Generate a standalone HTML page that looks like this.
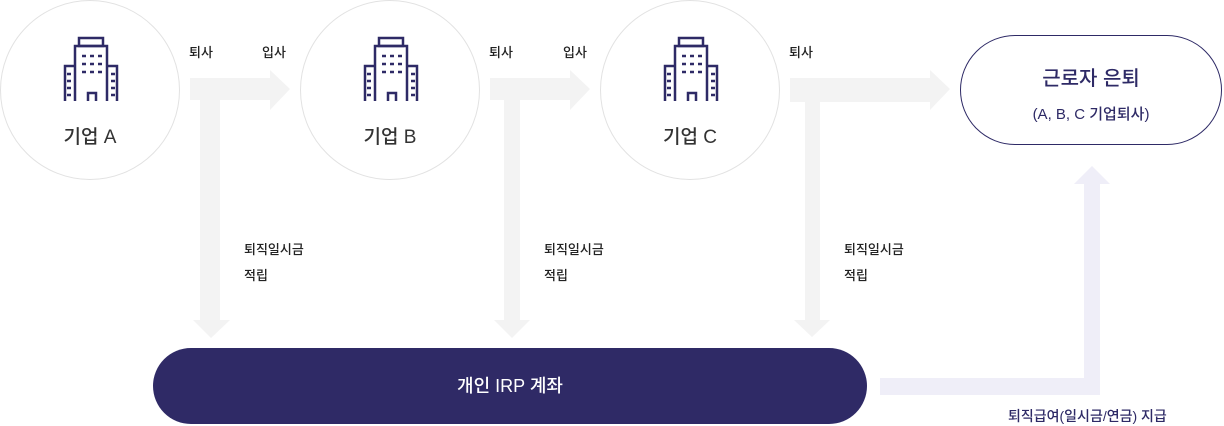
<!DOCTYPE html>
<html><head><meta charset="utf-8"><style>
body{margin:0;width:1224px;height:425px;background:#fff;overflow:hidden;position:relative;font-family:"Liberation Sans","Noto Sans CJK KR",sans-serif;color:#222}
.c{position:absolute;width:178px;height:178px;border:1px solid #e2e2e2;border-radius:50%;top:0}
.c .t{position:absolute;top:121px;width:100%;text-align:center;font-size:19px;color:#333;font-weight:500}
.c svg{position:absolute;left:60px;top:35px}
.l{position:absolute;font-size:13px;color:#222;font-weight:500}
</style></head><body>
<svg width="1224" height="425" style="position:absolute;left:0;top:0">
<g fill="#f3f3f3">
<polygon points="190,78 270,78 270,70 290,89 270,110 270,100 190,100"/>
<polygon points="200,100 220,100 220,320 230,320 211,338 193,320 200,320"/>
<polygon points="490,78 570,78 570,70 590,89 570,110 570,100 490,100"/>
<polygon points="504,100 520,100 520,320 530,320 512,338 494,320 504,320"/>
<polygon points="790,78 930,78 930,70 950,89 930,110 930,102 790,102"/>
<polygon points="805,102 820,102 820,320 830,320 812,337 794,320 805,320"/>
</g>
<polygon fill="#efeef8" points="880,378 1084,378 1084,184 1074,184 1092,166 1110,184 1100,184 1100,395 880,395"/>
</svg>
<div class="c" style="left:0"><svg width="62" height="66" viewBox="0 0 62 66" fill="none" stroke="#2e2a66" stroke-width="2.5"><rect x="18" y="2" width="24" height="8"/><path d="M14 65V10h32v55M14 65V30H4v35M46 30h10v35"/><path d="M21 20h4M29 20h4M37 20h4M21 28h4M29 28h4M37 28h4M21 36h4M29 36h4M37 36h4M6 38h4M6 45h4M6 52h4M6 59h4M50 38h4M50 45h4M50 52h4M50 59h4M27 65v-8h8v8"/></svg><div class="t">기업 A</div></div>
<div class="c" style="left:300px"><svg width="62" height="66" viewBox="0 0 62 66" fill="none" stroke="#2e2a66" stroke-width="2.5"><rect x="18" y="2" width="24" height="8"/><path d="M14 65V10h32v55M14 65V30H4v35M46 30h10v35"/><path d="M21 20h4M29 20h4M37 20h4M21 28h4M29 28h4M37 28h4M21 36h4M29 36h4M37 36h4M6 38h4M6 45h4M6 52h4M6 59h4M50 38h4M50 45h4M50 52h4M50 59h4M27 65v-8h8v8"/></svg><div class="t">기업 B</div></div>
<div class="c" style="left:600px"><svg width="62" height="66" viewBox="0 0 62 66" fill="none" stroke="#2e2a66" stroke-width="2.5"><rect x="18" y="2" width="24" height="8"/><path d="M14 65V10h32v55M14 65V30H4v35M46 30h10v35"/><path d="M21 20h4M29 20h4M37 20h4M21 28h4M29 28h4M37 28h4M21 36h4M29 36h4M37 36h4M6 38h4M6 45h4M6 52h4M6 59h4M50 38h4M50 45h4M50 52h4M50 59h4M27 65v-8h8v8"/></svg><div class="t">기업 C</div></div>
<div class="l" style="left:189px;top:42px">퇴사</div><div class="l" style="left:262px;top:42px">입사</div>
<div class="l" style="left:489px;top:42px">퇴사</div><div class="l" style="left:563px;top:42px">입사</div>
<div class="l" style="left:789px;top:42px">퇴사</div>
<div class="l" style="left:244px;top:237px;line-height:26px">퇴직일시금<br>적립</div>
<div class="l" style="left:544px;top:237px;line-height:26px">퇴직일시금<br>적립</div>
<div class="l" style="left:844px;top:237px;line-height:26px">퇴직일시금<br>적립</div>
<div style="position:absolute;left:960px;top:35px;width:260px;height:108px;border:1px solid #2e2a66;border-radius:55px;text-align:center;color:#2e2a66;font-weight:500">
<div style="font-size:20px;margin-top:26px">근로자 은퇴</div><div style="font-size:15px;margin-top:12px">(A, B, C 기업퇴사)</div></div>
<div style="position:absolute;left:153px;top:348px;width:714px;height:76px;background:#2f2a66;border-radius:38px;color:#fff;font-size:18px;font-weight:500;text-align:center;line-height:76px">개인 IRP 계좌</div>
<div class="l" style="left:1008px;top:406px;color:#2e2a66;font-size:14px">퇴직급여(일시금/연금) 지급</div>
</body></html>
